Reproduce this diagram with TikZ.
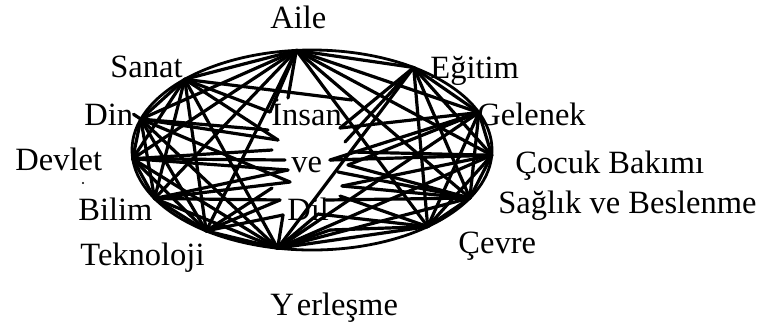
\documentclass[tikz,border=0pt]{standalone}
\usepackage{fontspec}
\setmainfont{Liberation Serif}
\begin{document}
\begin{tikzpicture}[x=0.5pt,y=-0.5pt,
  lbl/.style={inner sep=0pt,anchor=base west,font=\fontsize{16.25pt}{18pt}\selectfont},
  web/.style={line width=1.6pt,line cap=round},
  rim/.style={line width=1.4pt}]
\useasboundingbox (0,0) rectangle (759,329);
% rim
\draw[rim] (312,150) ellipse [x radius=90pt, y radius=50pt];
% vertices on the rim
\foreach \n/\a in {ai/95,eg/55.6,ge/22,co/-3,sb/-28.7,ce/-50,ye/-101,te/-126,bi/-151,de/-175,di/162,sa/135}
  \coordinate (\n) at ({312+180*cos(\a)},{150-100*sin(\a)});
% inner end points
\coordinate (iA) at (288,98);
\coordinate (iB) at (352,100);
\coordinate (iC) at (268,130);
\coordinate (iD) at (272,150);
\coordinate (iE) at (285,160);
\coordinate (iF) at (290,182);
\coordinate (iG) at (280,200);
\coordinate (iH) at (283,215);
\coordinate (iI) at (270,112);
\coordinate (iJ) at (278,140);
\coordinate (iK) at (288,170);
\coordinate (iL) at (272,188);
\coordinate (jA) at (340,128);
\coordinate (jB) at (345,142);
\coordinate (jC) at (330,160);
\coordinate (jD) at (338,172);
\coordinate (jE) at (342,186);
\coordinate (jF) at (326,200);
\coordinate (jG) at (318,214);
\coordinate (jH) at (330,230);
\coordinate (jI) at (352,152);
\coordinate (jJ) at (348,165);
\coordinate (jK) at (340,196);
% labels
\node[lbl] (Laile) at (270,28) {Aile};
\node[lbl] (Lsanat) at (110,77) {Sanat};
\node[lbl] (Legitim) at (430,78) {Eğitim};
\node[lbl] (Ldin) at (84,125) {Din};
\node[lbl] (Linsan) at (271,125) {İnsan};
\node[lbl] (Lgelenek) at (477,125) {Gelenek};
\node[lbl] (Ldevlet) at (15,170) {Devlet};
\node[lbl] (Lve) at (291,172) {ve};
\node[lbl] (Lcocuk) at (515,173) {Çocuk Bakımı};
\node[lbl] (Lbilim) at (78,220) {Bilim};
\node[lbl] (Ldil) at (287,220) {Dil};
\node[lbl] (Lsaglik) at (498,213) {Sağlık ve Beslenme};
\node[lbl] (Ltek) at (80,265) {Teknoloji};
\node[lbl] (Lcevre) at (458,253) {Çevre};
\node[lbl] (Lyer) at (270,315) {Y\kern1.5pt erleşme};
\fill (83,183) circle [radius=1.2];
% web, left half
\foreach \p/\q in {ai/sa,ai/di,ai/de,ai/bi,ai/te,sa/di,sa/de,sa/bi,sa/te,sa/ye,di/de,di/bi,di/te,di/ye,de/bi,de/te,de/ye,bi/te,bi/ye,te/ye}
  \draw[web] (\p) -- (\q);
% web, right half
\foreach \p/\q in {ai/eg,ai/ge,ai/co,ai/sb,ai/ce,eg/ge,eg/co,eg/sb,eg/ce,eg/ye,ge/co,ge/sb,ge/ce,ge/ye,co/sb,co/ce,co/ye,sb/ce,sb/ye,ce/ye}
  \draw[web] (\p) -- (\q);
% lines towards the centre
\foreach \p/\q in {ai/iA,sa/iB,di/iC,sa/iI,de/iD,de/iE,di/iF,bi/iG,te/iH,bi/iF,te/iG,ai/iI,ye/iH,sa/iJ,di/iJ,de/iK,te/iL,bi/iK}
  \draw[web] (\p) -- (\q);
\foreach \p/\q in {ge/jA,eg/jB,co/jC,sb/jD,co/jE,sb/jF,ce/jG,ce/jH,ye/jG,eg/jA,ge/jC,sb/jE,ye/jH,co/jI,sb/jJ,ce/jK,ge/jJ}
  \draw[web] (\p) -- (\q);
\draw[web] (Ldin.east) -- (di);
\end{tikzpicture}
\end{document}
